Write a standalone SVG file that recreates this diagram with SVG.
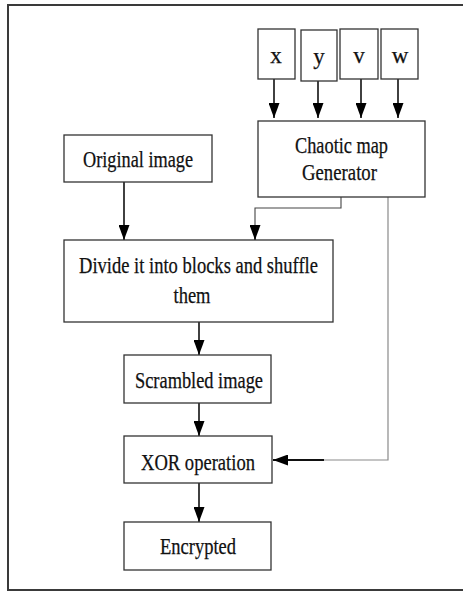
<svg xmlns="http://www.w3.org/2000/svg" width="463" height="591" viewBox="0 0 463 591">
<defs>
<style>
.box{fill:#fff;stroke:#333;stroke-width:1.3}
.t{font-size:23px;fill:#111;stroke:#111;stroke-width:0.25;text-anchor:middle}
.c{fill:none;stroke:#111;stroke-width:1.6}
.g{fill:none;stroke:#8a8a8a;stroke-width:1.2}
.th{fill:none;stroke:#444;stroke-width:1.1}
</style>
<marker id="ah" viewBox="0 0 15 11" refX="15" refY="5.5" markerWidth="15" markerHeight="11" markerUnits="userSpaceOnUse" orient="auto">
<path d="M0,0 L15,5.5 L0,11 Z" fill="#000"/>
</marker>
</defs>
<rect x="8" y="5" width="470" height="585" fill="none" stroke="#3a3a3a" stroke-width="2"/>
<g id="connectors">
<line class="c" x1="274" y1="79" x2="274" y2="118" marker-end="url(#ah)"/>
<line class="c" x1="318" y1="81" x2="318" y2="118" marker-end="url(#ah)"/>
<line class="c" x1="361" y1="79" x2="361" y2="118" marker-end="url(#ah)"/>
<line class="c" x1="398" y1="79" x2="398" y2="118" marker-end="url(#ah)"/>
<line class="c" x1="124" y1="182" x2="124" y2="240" marker-end="url(#ah)"/>
<polyline class="th" points="341,197 341,208 255,208 255,226"/>
<line class="c" x1="255" y1="225" x2="255" y2="240" marker-end="url(#ah)"/>
<line class="c" x1="199" y1="322" x2="199" y2="355" marker-end="url(#ah)"/>
<line class="c" x1="199" y1="403" x2="199" y2="436" marker-end="url(#ah)"/>
<line class="c" x1="199" y1="483" x2="199" y2="522" marker-end="url(#ah)"/>
<polyline class="g" points="388,197 388,460 323,460"/>
<line x1="324" y1="460" x2="273" y2="460" stroke="#111" stroke-width="2" marker-end="url(#ah)"/>
</g>
<g font-family="'Liberation Serif', 'Times New Roman', serif">
<g id="node-x"><rect class="box" x="258" y="29" width="37" height="50"/><text class="t" x="276" y="63">x</text></g>
<g id="node-y"><rect class="box" x="301" y="30" width="36" height="51"/><text class="t" x="319" y="64">y</text></g>
<g id="node-v"><rect class="box" x="340" y="29" width="38" height="50"/><text class="t" x="359" y="63">v</text></g>
<g id="node-w"><rect class="box" x="381" y="29" width="37" height="50"/><text class="t" x="400" y="63">w</text></g>
<g id="node-chaotic"><rect class="box" x="258" y="121" width="167" height="76"/>
<text class="t" x="341.5" y="153" textLength="93" lengthAdjust="spacingAndGlyphs">Chaotic map</text>
<text class="t" x="339.5" y="180" textLength="75" lengthAdjust="spacingAndGlyphs">Generator</text></g>
<g id="node-original"><rect class="box" x="64" y="135" width="148" height="47"/>
<text class="t" x="138" y="167" textLength="110" lengthAdjust="spacingAndGlyphs">Original image</text></g>
<g id="node-divide"><rect class="box" x="64" y="240" width="269" height="82"/>
<text class="t" x="198.5" y="273" textLength="239" lengthAdjust="spacingAndGlyphs">Divide it into blocks and shuffle</text>
<text class="t" x="192" y="303" textLength="37" lengthAdjust="spacingAndGlyphs">them</text></g>
<g id="node-scrambled"><rect class="box" x="124" y="355" width="147" height="48"/>
<text class="t" x="199" y="388" textLength="128" lengthAdjust="spacingAndGlyphs">Scrambled image</text></g>
<g id="node-xor"><rect class="box" x="124" y="436" width="148" height="47"/>
<text class="t" x="198" y="470" textLength="114" lengthAdjust="spacingAndGlyphs">XOR operation</text></g>
<g id="node-encrypted"><rect class="box" x="124" y="522" width="147" height="48"/>
<text class="t" x="198" y="554" textLength="76" lengthAdjust="spacingAndGlyphs">Encrypted</text></g>
</g>
</svg>
